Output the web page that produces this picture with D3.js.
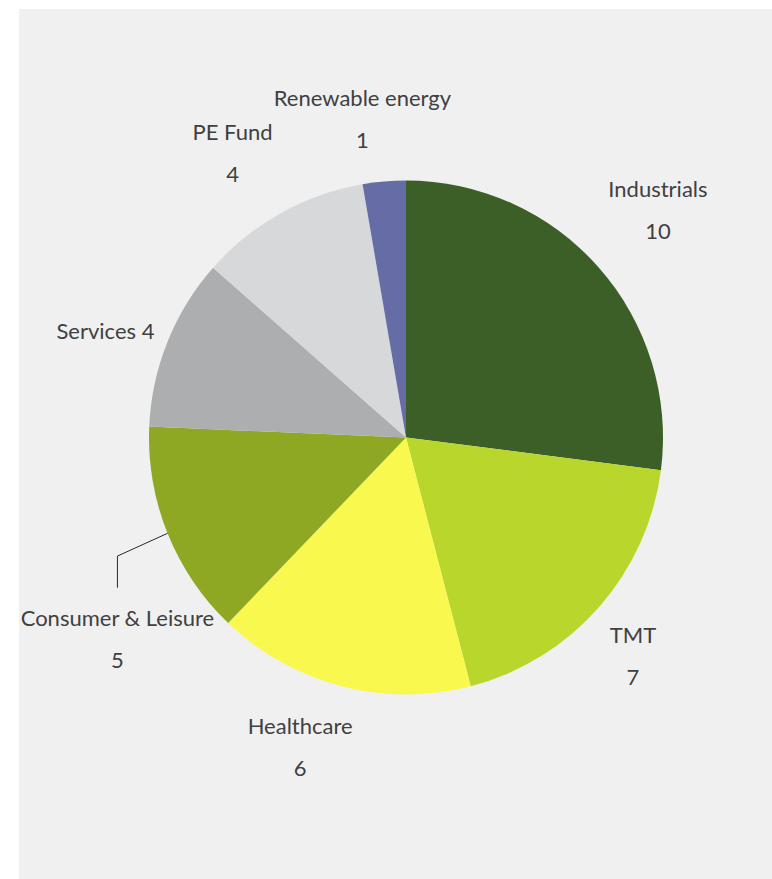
<!DOCTYPE html>
<html>
<head>
<meta charset="utf-8">
<script src="https://cdn.jsdelivr.net/npm/d3@7"></script>
<style>
  html, body { margin: 0; padding: 0; background: #ffffff; }
  svg { display: block; }
  text { font-family: "Lato", "Open Sans", sans-serif; fill: #404040; }
</style>
</head>
<body>
<svg id="chart" width="772" height="879"></svg>
<script>
// Deal count by sector
const sectors = ["Industrials", "TMT", "Healthcare", "Consumer & Leisure", "Services", "PE Fund", "Renewable energy"];
const deals = [10, 7, 6, 5, 4, 4, 1];
const colours = ["#3b5f26", "#b8d62b", "#f9f84f", "#8fa823", "#adaeb0", "#d7d8da", "#666ca6"];

// Label placement: offset from the slice's mid-angle point at the label radius
const labelNudge = [[8, -13], [-17, 3], [-24, -6], [13, 80], [1, 14], [-15, -1], [-16, 5]];
const inlineValue = [false, false, false, false, true, false, false];

const width = 772, height = 879;
const cx = 406, cy = 437.5, radius = 257, labelRadius = 325, lineGap = 42;
const fontSize = 22;

const svg = d3.select("#chart");

svg.append("rect")
  .attr("x", 19).attr("y", 9)
  .attr("width", width - 19).attr("height", height - 9)
  .attr("fill", "#f0f0f0");

const data = sectors.map((s, i) => ({ name: s, value: deals[i], colour: colours[i], i }));

const pie = d3.pie().value(d => d.value).sort(null);
const arc = d3.arc().innerRadius(0).outerRadius(radius);
const arcs = pie(data);

const g = svg.append("g").attr("transform", `translate(${cx},${cy})`);

g.selectAll("path.slice")
  .data(arcs)
  .join("path")
  .attr("class", "slice")
  .attr("d", arc)
  .attr("fill", d => d.data.colour);

const polar = (a, r) => [r * Math.sin(a), -r * Math.cos(a)];

const addText = (x, y, str) => g.append("text")
  .attr("x", x).attr("y", y)
  .attr("text-anchor", "middle")
  .attr("dominant-baseline", "central")
  .attr("font-size", fontSize)
  .text(str);

arcs.forEach(d => {
  const mid = (d.startAngle + d.endAngle) / 2;
  const [px, py] = polar(mid, labelRadius);
  const [nx, ny] = labelNudge[d.data.i];
  const lx = px + nx, ly = py + ny;

  if (inlineValue[d.data.i]) {
    addText(lx, ly, `${d.data.name} ${d.data.value}`);
  } else {
    addText(lx, ly - lineGap / 2, d.data.name);
    addText(lx, ly + lineGap / 2, d.data.value);
  }

  // Leader line for a label pushed away from its slice
  if (d.data.name === "Consumer & Leisure") {
    const [sx, sy] = polar(mid, radius);
    const [, ey] = polar(mid, 318);
    g.append("path")
      .attr("d", d3.line()([[sx, sy], [lx, ey], [lx, ly - lineGap / 2 - 30]]))
      .attr("fill", "none")
      .attr("stroke", "#262626")
      .attr("stroke-width", 1);
  }
});
</script>
</body>
</html>
